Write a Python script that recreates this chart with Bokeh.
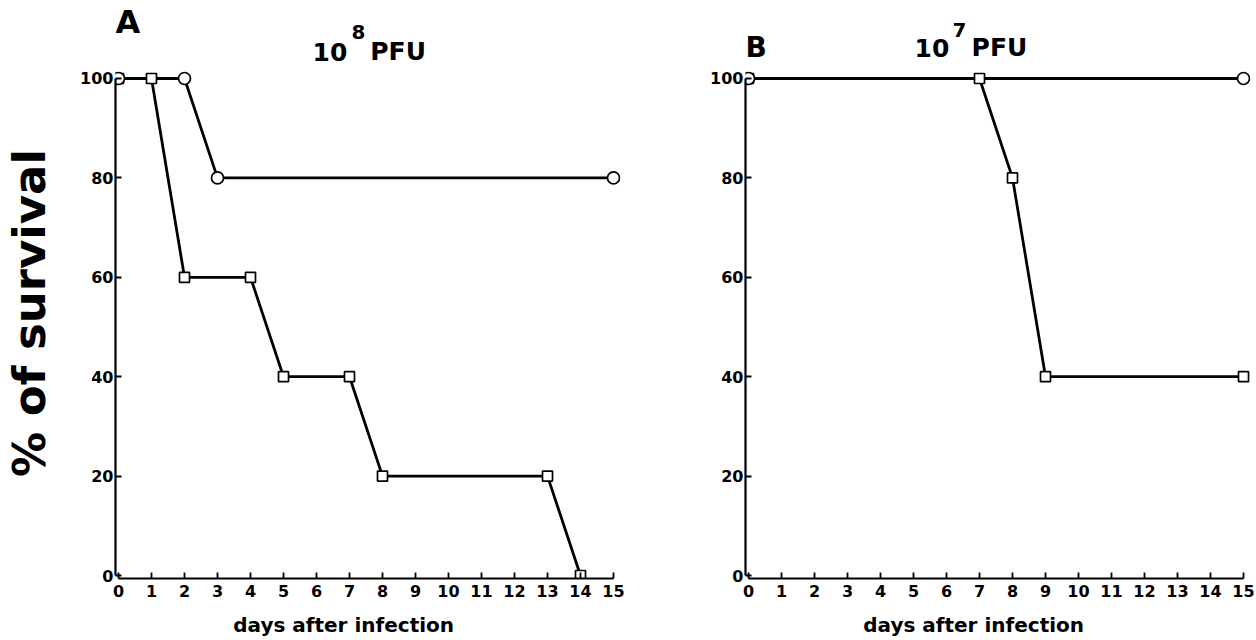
from bokeh.plotting import figure
from bokeh.layouts import row
from bokeh.models import FixedTicker, Label, Range1d
from bokeh.embed import file_html
from bokeh.resources import INLINE

# ---- data ----
days_ticks = list(range(0, 16))
surv_ticks = [0, 20, 40, 60, 80, 100]

a_circle_days = [0, 2, 3, 15]
a_circle_surv = [100, 100, 80, 80]
a_square_days = [0, 1, 2, 4, 5, 7, 8, 13, 14]
a_square_surv = [100, 100, 60, 60, 40, 40, 20, 20, 0]

b_circle_days = [0, 15]
b_circle_surv = [100, 100]
b_square_days = [0, 7, 8, 9, 15]
b_square_surv = [100, 100, 80, 40, 40]

x_title = "days after infection"
y_title = "% of survival"

FONT = "DejaVu Sans"
X_START, X_END = -0.0909, 15.212
Y_START, Y_END = -0.6036, 115.69
NB = "\u00a0"


def make_panel(border_left, border_right, circ, sq, ylabel):
    p = figure(frame_width=505, frame_height=578,
               min_border_left=border_left, min_border_right=border_right,
               min_border_top=0, min_border_bottom=62,
               x_range=Range1d(X_START, X_END), y_range=Range1d(Y_START, Y_END),
               output_backend="svg", toolbar_location=None)
    p.outline_line_color = None
    p.grid.visible = False

    for ax, ticks, bounds in ((p.xaxis[0], days_ticks, (0, 15)),
                              (p.yaxis[0], surv_ticks, (0, 100))):
        ax.ticker = FixedTicker(ticks=ticks)
        ax.bounds = bounds
        ax.axis_line_width = 2.2
        ax.axis_line_color = "black"
        ax.major_tick_line_width = 1.8
        ax.major_tick_line_color = "black"
        ax.major_tick_in = 6
        ax.major_tick_out = 0
        ax.minor_tick_line_color = None
        ax.major_label_text_font = FONT
        ax.major_label_text_font_style = "bold"
        ax.major_label_text_color = "black"
        ax.major_label_text_font_size = "16px"
    p.xaxis[0].major_label_standoff = 6
    p.yaxis[0].major_label_standoff = 2

    p.xaxis[0].axis_label = x_title + NB * 7
    p.xaxis[0].axis_label_standoff = 13
    p.xaxis[0].axis_label_text_font = FONT
    p.xaxis[0].axis_label_text_font_style = "bold"
    p.xaxis[0].axis_label_text_font_size = "20px"
    p.xaxis[0].axis_label_text_color = "black"
    if ylabel:
        p.yaxis[0].axis_label = ylabel
        p.yaxis[0].axis_label_standoff = 21
        p.yaxis[0].axis_label_text_font = FONT
        p.yaxis[0].axis_label_text_font_style = "bold"
        p.yaxis[0].axis_label_text_font_size = "45px"
        p.yaxis[0].axis_label_text_color = "black"

    for days, surv in (sq, circ):
        p.line(days, surv, line_color="black", line_width=2.8)
    p.scatter(sq[0], sq[1], marker="square", size=10, fill_color="white",
              line_color="black", line_width=1.7)
    p.scatter(circ[0], circ[1], marker="circle", size=12, fill_color="white",
              line_color="black", line_width=1.7)
    return p


p1 = make_panel(110, 12, (a_circle_days, a_circle_surv), (a_square_days, a_square_surv),
                y_title + NB * 3)
p2 = make_panel(113, 6, (b_circle_days, b_circle_surv), (b_square_days, b_square_surv), None)


def lab(p, x, y, text, size):
    p.add_layout(Label(x=x, y=y, text=text, text_align="left", text_baseline="alphabetic",
                       text_font=FONT, text_font_style="bold", text_font_size=size,
                       text_color="black"))


lab(p1, -0.09, 111.27, "A", "32px")
lab(p1, 5.88, 105.4, "10", "25px")
lab(p1, 7.06, 109.4, "8", "20px")
lab(p1, 7.63, 105.4, "PFU", "25px")

lab(p2, -0.09, 106.2, "B", "28px")
lab(p2, 5.03, 106.2, "10", "25px")
lab(p2, 6.18, 109.8, "7", "20px")
lab(p2, 6.76, 106.2, "PFU", "25px")

layout = row(p1, p2)
open("out.html", "w").write(file_html(layout, INLINE))
